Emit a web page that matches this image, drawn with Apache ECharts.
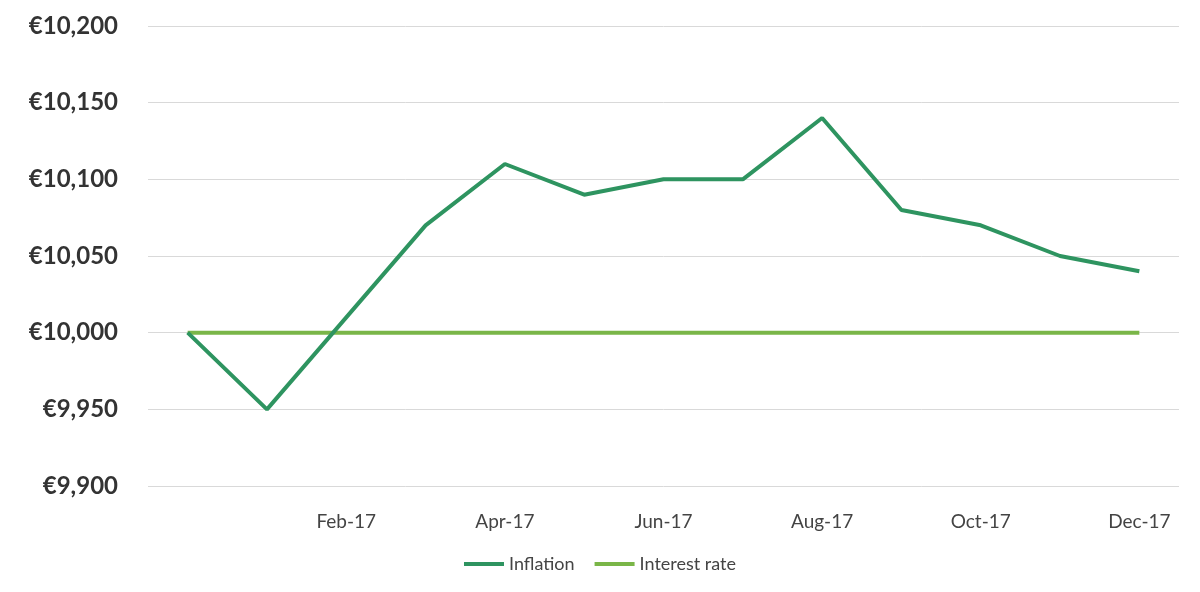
<!DOCTYPE html>
<html><head><meta charset="utf-8">
<script src="https://cdn.jsdelivr.net/npm/echarts@6/dist/echarts.min.js"></script>
<style>html,body{margin:0;padding:0;background:#fff}#c{width:1200px;height:592px}</style>
</head><body><div id="c"></div>
<script>
const categories = ['Dec-16','Jan-17','Feb-17','Mar-17','Apr-17','May-17','Jun-17','Jul-17','Aug-17','Sep-17','Oct-17','Nov-17','Dec-17'];
const inflation = [10000,9950,10010,10070,10110,10090,10100,10100,10140,10080,10070,10050,10040];
const interestRate = [10000,10000,10000,10000,10000,10000,10000,10000,10000,10000,10000,10000,10000];
const chart = echarts.init(document.getElementById('c'));
chart.setOption({
  animation:false,
  textStyle:{fontFamily:'Lato, "Open Sans", sans-serif'},
  grid:{left:148,right:21,top:26,bottom:106},
  legend:{bottom:14,left:'center',itemWidth:40,itemHeight:4,itemGap:20,icon:'rect',
    textStyle:{fontSize:18,color:'#444'},data:['Inflation','Interest rate']},
  xAxis:{type:'category',data:categories,boundaryGap:true,
    axisLine:{show:false},axisTick:{show:false},
    axisLabel:{fontSize:19,color:'#444',margin:26,
      interval:function(i){return i>0 && i%2===0;}}},
  yAxis:{type:'value',min:9900,max:10200,interval:50,
    axisLabel:{fontSize:24,fontWeight:'bold',color:'#333',margin:30,
      formatter:v=>'€'+v.toLocaleString('en-US')},
    splitLine:{lineStyle:{color:'#d9d9d9',width:1}}},
  series:[
    {name:'Interest rate',type:'line',data:interestRate,symbol:'none',
      lineStyle:{color:'#7ab648',width:4},itemStyle:{color:'#7ab648'},z:2},
    {name:'Inflation',type:'line',data:inflation,symbol:'none',
      lineStyle:{color:'#2e9460',width:4},itemStyle:{color:'#2e9460'},z:3}
  ]
});
</script></body></html>
